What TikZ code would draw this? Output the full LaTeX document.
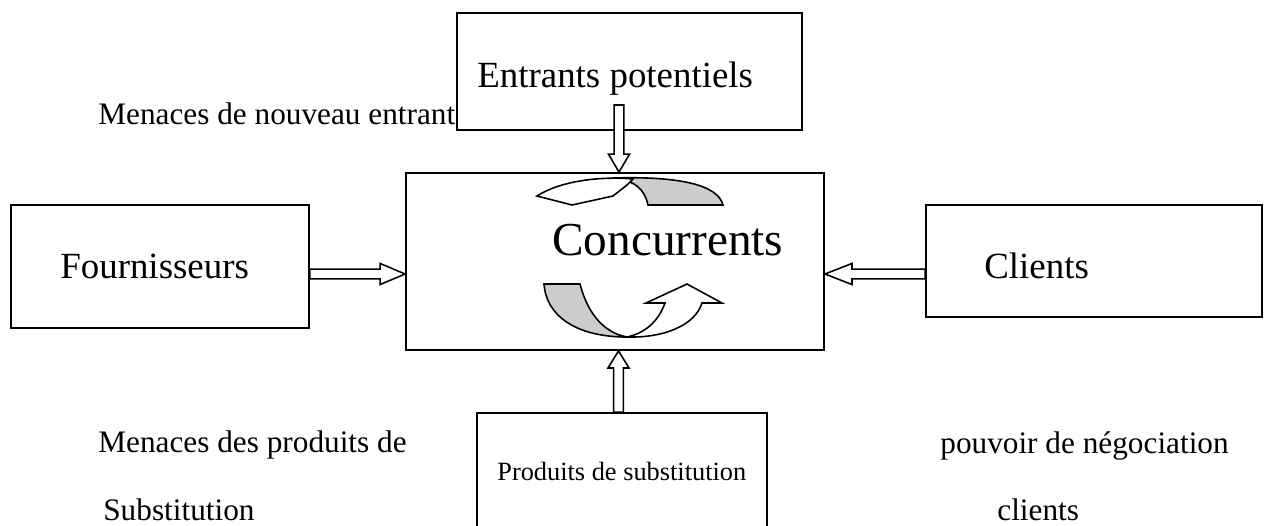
\documentclass[tikz,border=0pt]{standalone}
\usepackage{fontspec}
\setmainfont{Liberation Serif}
\usetikzlibrary{calc}
% hollow block arrow from #1 to #2, head length #3
\newcommand\blockarr[3]{%
  \coordinate (bah) at ($(#2)!#3!(#1)$);
  \draw[arr] ($(#1)!2.8pt!90:(#2)$) -- ($(bah)!2.8pt!90:(#2)$) -- ($(bah)!6pt!90:(#2)$) -- (#2)
    -- ($(bah)!6pt!-90:(#2)$) -- ($(bah)!2.8pt!-90:(#2)$) -- ($(#1)!2.8pt!-90:(#2)$) -- cycle;}
\begin{document}
\begin{tikzpicture}[x=0.02cm,y=-0.02cm,
  box/.style={draw, line width=1.1pt, inner sep=0pt},
  arr/.style={draw, line width=0.9pt, fill=white, line join=miter},
  curv/.style={draw, line width=0.9pt, line join=miter},
  lbl/.style={anchor=base west, inner sep=0pt, font=\fontsize{17.8pt}{20pt}\selectfont},
  big/.style={anchor=base west, inner sep=0pt, font=\fontsize{21pt}{24pt}\selectfont}]
\useasboundingbox (0,0) rectangle (1266,525);
% boxes
\node[box, minimum width=6.9cm, minimum height=2.34cm] (ent) at (629.5,71.5) {};
\node[box, minimum width=8.36cm, minimum height=3.54cm] (conc) at (615,261.5) {};
\node[box, minimum width=5.96cm, minimum height=2.46cm] (four) at (160,266.5) {};
\node[box, minimum width=6.72cm, minimum height=2.24cm] (cli) at (1094,261) {};
\node[box, minimum width=5.8cm, minimum height=2.54cm] (prod) at (622,476.5) {};
% box texts
\node[big] (tent) at (477,87) {Entrants potentiels};
\node[anchor=base west, inner sep=0pt, font=\fontsize{26.9pt}{30pt}\selectfont] (tconc) at (552,255) {Concurrents};
\node[big] (tfour) at (60,278) {Fournisseurs};
\node[big] (tcli) at (984,278) {Clients};
\node[anchor=base west, inner sep=0pt, font=\fontsize{15pt}{18pt}\selectfont] (tprod) at (497,480) {Produits de substitution};
% free labels
\node[lbl] (m1) at (98,124) {Menaces de nouveau entrant};
\node[lbl] (m2) at (98,452) {Menaces des produits de};
\node[lbl] (m3) at (103,520) {Substitution};
\node[lbl] (p1) at (940,453) {pouvoir de négociation};
\node[lbl] (p2) at (997,520) {clients};
% connectors
\coordinate (t1) at ($(ent.south)+(-10.5,-26)$);
\coordinate (t2) at (t1 |- conc.north);
\blockarr{t1}{t2}{10.2pt}
\coordinate (b1) at ($(prod.north)+(-3.5,0)$);
\coordinate (b2) at (b1 |- conc.south);
\blockarr{b1}{b2}{9.7pt}
\coordinate (l1) at ($(four.east)+(0,7.5)$);
\coordinate (l2) at (conc.west |- l1);
\blockarr{l1}{l2}{14.2pt}
\coordinate (r1) at ($(cli.west)+(0,13)$);
\coordinate (r2) at (conc.east |- r1);
\blockarr{r1}{r2}{15.4pt}
% circular arrows in the centre
\draw[curv, fill=black!20] (613,178) .. controls (680,176) and (718,185) .. (723,205)
  -- (648,205) .. controls (645,190) and (635,180) .. (613,178) -- cycle;
\draw[curv, fill=white] (537,196) .. controls (560,181) and (600,176) .. (633,179)
  .. controls (631,181) and (629,183) .. (627,185) -- (613,196) -- (572,205) -- cycle;
\draw[curv, fill=black!20] (544,284) -- (580,284) .. controls (588,315) and (605,333) .. (627,337)
  .. controls (575,337) and (546,315) .. (544,284) -- cycle;
\draw[curv, fill=white] (627,337) .. controls (665,338) and (695,325) .. (702,303)
  -- (722,303) -- (687,284) -- (646,303) -- (665,303)
  .. controls (658,322) and (645,333) .. (627,337) -- cycle;
\end{tikzpicture}
\end{document}
